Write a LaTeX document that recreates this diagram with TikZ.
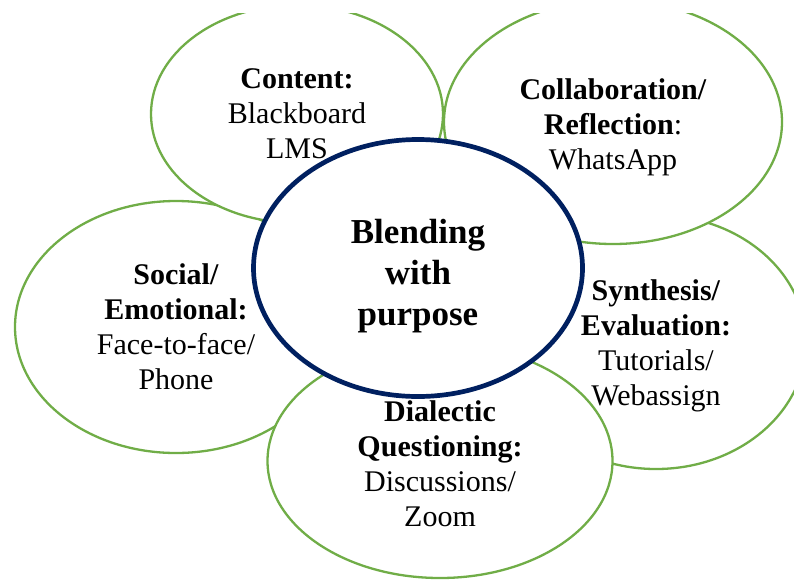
\documentclass[tikz,border=0pt]{standalone}
\usepackage{fontspec}
\setmainfont{Liberation Serif}
\usepackage{tikz}
\usetikzlibrary{shapes.geometric}
\definecolor{leaf}{HTML}{70AD47}
\definecolor{navy}{HTML}{002060}
\newcommand\lift[1]{\rule{0pt}{#1}}

\begin{document}
\begin{tikzpicture}[x=1pt,y=-1pt,
  petal/.style={ellipse,draw=leaf,line width=2.3pt,fill=white,inner sep=0pt,align=center,font=\fontsize{30}{35}\selectfont},
  hub/.style={ellipse,draw=navy,line width=4.7pt,fill=white,inner sep=0pt,align=center,font=\fontsize{35}{41}\selectfont\bfseries}]
  \useasboundingbox (0,0) rectangle (794,579);
  \begin{scope}
    \clip (0,13) rectangle (794,579);
    \node[petal,minimum width=322pt,minimum height=252pt] (soc) at (176,327) {\textbf{Social/}\\\textbf{Emotional:}\\Face-to-face/\\Phone};
    \node[petal,minimum width=300pt,minimum height=254pt] (syn) at (656,342) {\lift{28pt}\textbf{Synthesis/}\\\textbf{Evaluation:}\\Tutorials/\\Webassign};
    \node[petal,minimum width=292pt,minimum height=218pt] (con) at (297,114) {\textbf{Content:}\\Blackboard\\LMS};
    \node[petal,minimum width=338pt,minimum height=244pt] (col) at (613,122) {\lift{31pt}\textbf{Collaboration/}\\\textbf{Reflection}:\\WhatsApp};
    \node[petal,minimum width=345pt,minimum height=234pt] (dia) at (440,461) {\lift{25.5pt}\textbf{Dialectic}\\\textbf{Questioning:}\\Discussions/\\Zoom};
  \end{scope}
  \node[hub,minimum width=329pt,minimum height=257pt] (mid) at (418,268) {\lift{40pt}Blending\\with\\purpose};
\end{tikzpicture}
\end{document}
